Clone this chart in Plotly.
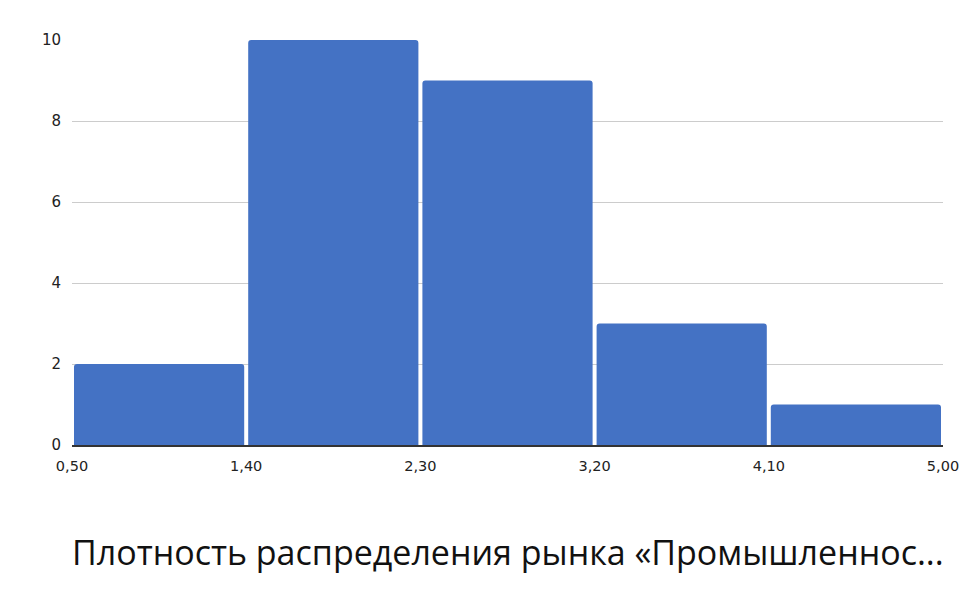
import plotly.graph_objects as go

bin_edges = [0.5, 1.4, 2.3, 3.2, 4.1, 5.0]
counts = [2, 10, 9, 3, 1]
x_tick_labels = ["0,50", "1,40", "2,30", "3,20", "4,10", "5,00"]
y_ticks = [0, 2, 4, 6, 8, 10]
title = "Плотность распределения рынка «Промышленнос..."

centers = [(bin_edges[i] + bin_edges[i + 1]) / 2 for i in range(len(counts))]
widths = [(bin_edges[i + 1] - bin_edges[i]) * 0.977 for i in range(len(counts))]

fig = go.Figure()
fig.add_trace(go.Bar(
    x=centers, y=counts, width=widths,
    marker=dict(color="#4472C4", line=dict(width=0), cornerradius=3),
    hoverinfo="skip",
))

fig.update_layout(
    width=974, height=603,
    margin=dict(l=64, r=39, t=32, b=166),
    paper_bgcolor="white", plot_bgcolor="white",
    showlegend=False,
    font=dict(family="DejaVu Sans, sans-serif", color="#222"),
    xaxis=dict(
        range=[bin_edges[0], bin_edges[-1]],
        tickvals=bin_edges, ticktext=x_tick_labels,
        showgrid=False, zeroline=False,
        showline=True, linecolor="#333", linewidth=2,
        ticks="", tickfont=dict(size=14.5, color="#222"),
        ticklabelstandoff=7,
    ),
    yaxis=dict(
        range=[0, 10], tickvals=y_ticks,
        showgrid=True, gridcolor="#cccccc", gridwidth=1,
        zeroline=False, showline=False, ticks="",
        tickfont=dict(size=15, color="#222"),
        ticklabelstandoff=10,
    ),
    annotations=[dict(
        text=title, xref="paper", yref="paper",
        x=0.5, y=-0.265, xanchor="center", yanchor="middle",
        showarrow=False,
        font=dict(size=34, family="Open Sans, sans-serif", color="#111"),
    )],
)

fig.write_html("out.html")
